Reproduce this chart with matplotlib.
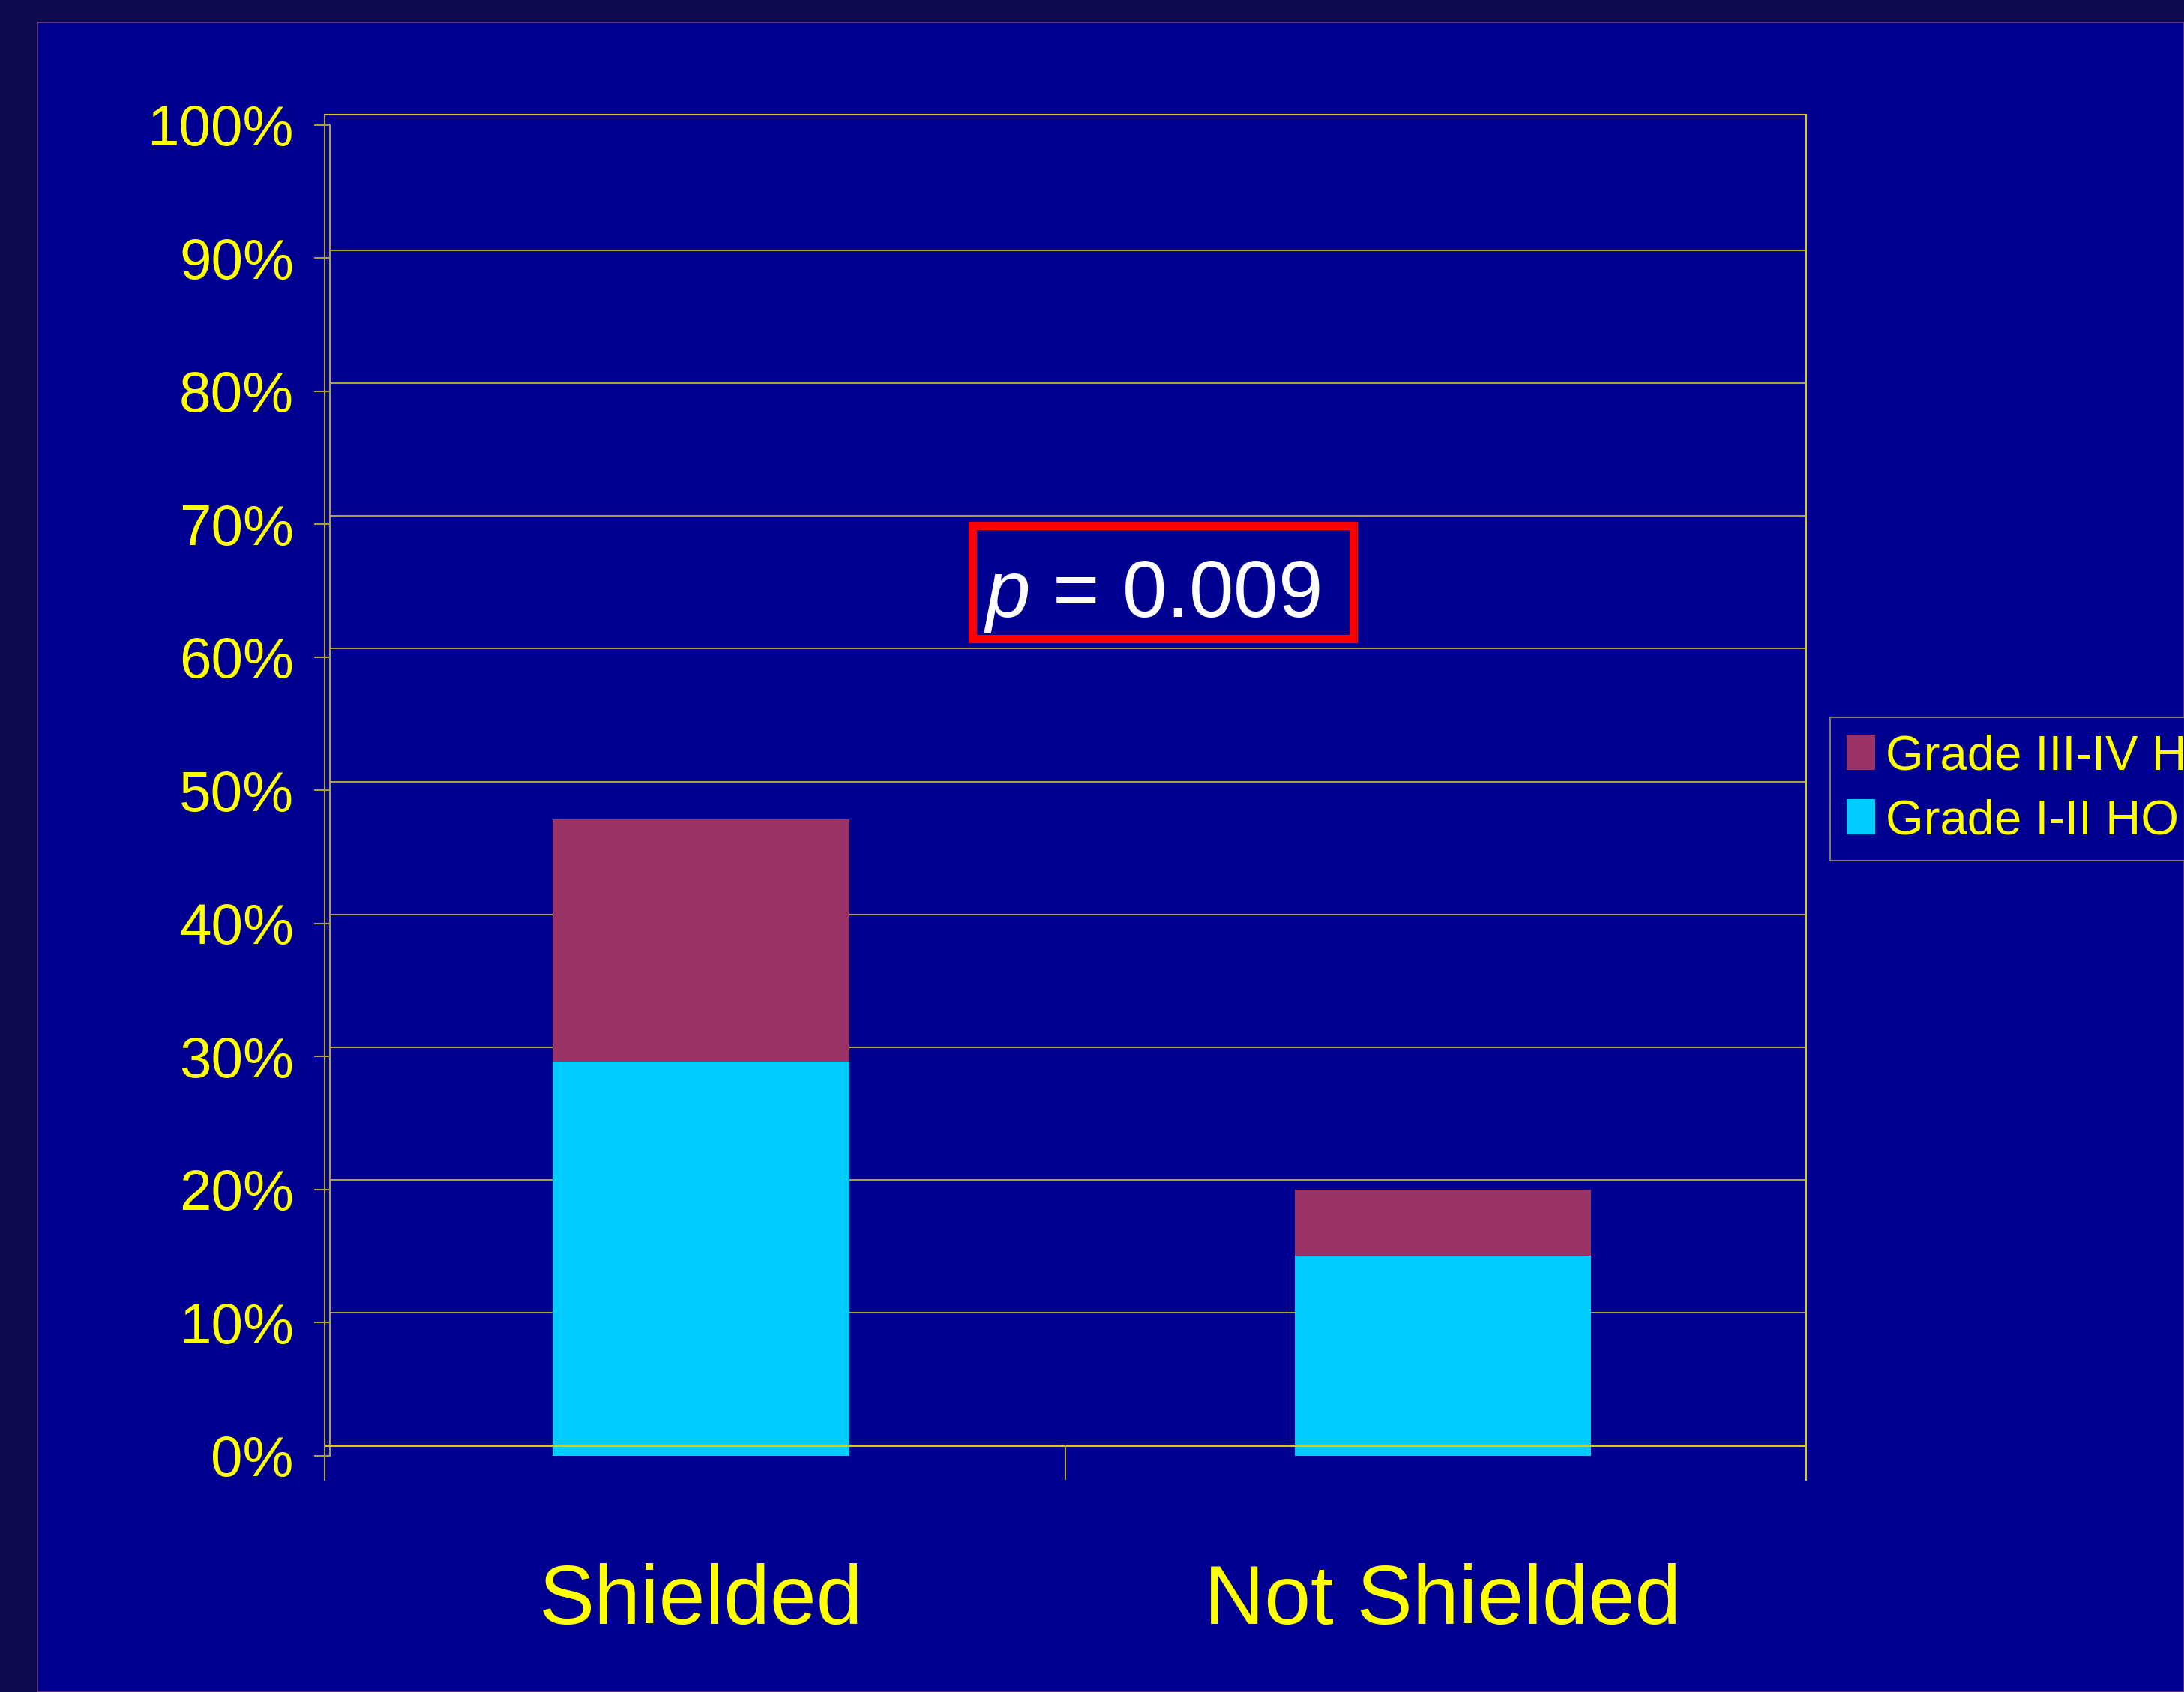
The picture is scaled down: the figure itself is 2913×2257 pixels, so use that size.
"""Stacked HO-grade bars, shielded vs not shielded, slide-style chart."""

import matplotlib

matplotlib.use("Agg")
import matplotlib.pyplot as plt
import numpy as np
from matplotlib.patches import Rectangle

categories = ["Shielded", "Not Shielded"]
grade_1_2 = [0.296, 0.150]
grade_3_4 = [0.182, 0.050]
series_labels = ["Grade I-II HO", "Grade III-IV HO"]
y_ticks = np.arange(0, 1.01, 0.1)
p_label = r"$p$ = 0.009"

W, H = 2913, 2257

OUTER_BG = "#0E0A4E"
PANEL_BG = "#000090"
YELLOW = "#FFFF00"
GRID = "#ABA234"
AXIS_LINE = "#D8CC10"
CYAN = "#00CCFF"
PLUM = "#993366"
FONT = "Liberation Sans"

plt.rcParams["mathtext.fontset"] = "custom"
plt.rcParams["mathtext.rm"] = FONT
plt.rcParams["mathtext.it"] = FONT + ":italic"


def fx(px):
    return px / W


def fy(py):
    return 1 - py / H


fig = plt.figure(figsize=(W / 100, H / 100), dpi=100, facecolor=OUTER_BG)

# slide panel behind everything
panel = Rectangle((fx(50), 0), 1 - fx(50), fy(30), transform=fig.transFigure,
                  facecolor=PANEL_BG, edgecolor="#6A3C80", linewidth=1.2, zorder=-10)
fig.add_artist(panel)

# back wall with gridlines (slightly up/right of the bar plane)
wall = fig.add_axes([fx(433), fy(1928), 1976 / W, (1928 - 157) / H], zorder=0)
wall.set_xlim(0, 1)
wall.set_ylim(0, 1)
wall.patch.set_visible(False)
wall.axis("off")
for t in y_ticks[1:]:
    wall.axhline(t, xmin=8 / 1976, xmax=1, color=GRID, linewidth=1.5)

# bar plane
ax = fig.add_axes([fx(440.5), fy(1941.7), (2419 - 440.5) / W, 1775 / H], zorder=1)
ax.patch.set_visible(False)
x = np.arange(len(categories))
b12 = ax.bar(x, grade_1_2, width=0.4, color=CYAN, label=series_labels[0])
b34 = ax.bar(x, grade_3_4, width=0.4, bottom=grade_1_2, color=PLUM,
             label=series_labels[1])
ax.set_xlim(-0.5, len(categories) - 0.5)
ax.set_ylim(0, 1)
for side in ["top", "right", "bottom"]:
    ax.spines[side].set_visible(False)
ax.spines["left"].set_color(GRID)
ax.spines["left"].set_linewidth(1.5)
ax.set_yticks(y_ticks)
ax.set_yticklabels([f"{t:.0%}" for t in y_ticks], fontsize=55,
                   family=FONT, color=YELLOW)
ax.tick_params(axis="y", direction="out", length=15, width=1.5, color=GRID, pad=20)
ax.set_xticks(x)
ax.set_xticklabels(categories, fontsize=80, family=FONT, color=YELLOW)
ax.tick_params(axis="x", length=0, pad=103)

# outer plot-area frame and category axis
frame = fig.add_axes([fx(433), fy(1974), 1976 / W, (1974 - 153) / H], zorder=3)
frame.patch.set_visible(False)
frame.set_xlim(0, len(categories))
frame.set_ylim(0, 1)
frame.set_xticks([])
frame.set_yticks([])
frame.spines["bottom"].set_visible(False)
frame.spines["left"].set_color(GRID)
frame.spines["top"].set_color(AXIS_LINE)
frame.spines["right"].set_color(AXIS_LINE)
for side in ["left", "top", "right"]:
    frame.spines[side].set_linewidth(1.5)
cat_axis = (1974 - 1928) / (1974 - 153)
frame.axhline(cat_axis, color=AXIS_LINE, linewidth=2.2)
for k in range(1, len(categories)):
    frame.axvline(k, ymin=0, ymax=cat_axis, color=GRID, linewidth=1.5)

# p-value callout
fig.add_artist(Rectangle((fx(1296.5), fy(851.5)), (1804.5 - 1296.5) / W,
                         (851.5 - 700.5) / H, transform=fig.transFigure,
                         facecolor="none", edgecolor="#FF0000", linewidth=8, zorder=5))
fig.text(fx(1536), fy(823), p_label, ha="center", va="baseline", color="white",
         fontsize=77, family=FONT, zorder=6)

# legend, III-IV listed first
leg = fig.legend([b34, b12], [series_labels[1], series_labels[0]],
                 loc="upper left", bbox_to_anchor=(fx(2441), fy(957)),
                 prop={"family": FONT, "size": 47},
                 frameon=True, fancybox=False, borderpad=0.34, borderaxespad=0,
                 handlelength=0.58, handleheight=0.72, handletextpad=0.22,
                 labelspacing=0.4)
leg.get_frame().set_facecolor(PANEL_BG)
leg.get_frame().set_edgecolor("#A09A50")
leg.get_frame().set_linewidth(1.5)
for txt in leg.get_texts():
    txt.set_color(YELLOW)

fig.savefig("out.png", dpi=100, facecolor=OUTER_BG)
